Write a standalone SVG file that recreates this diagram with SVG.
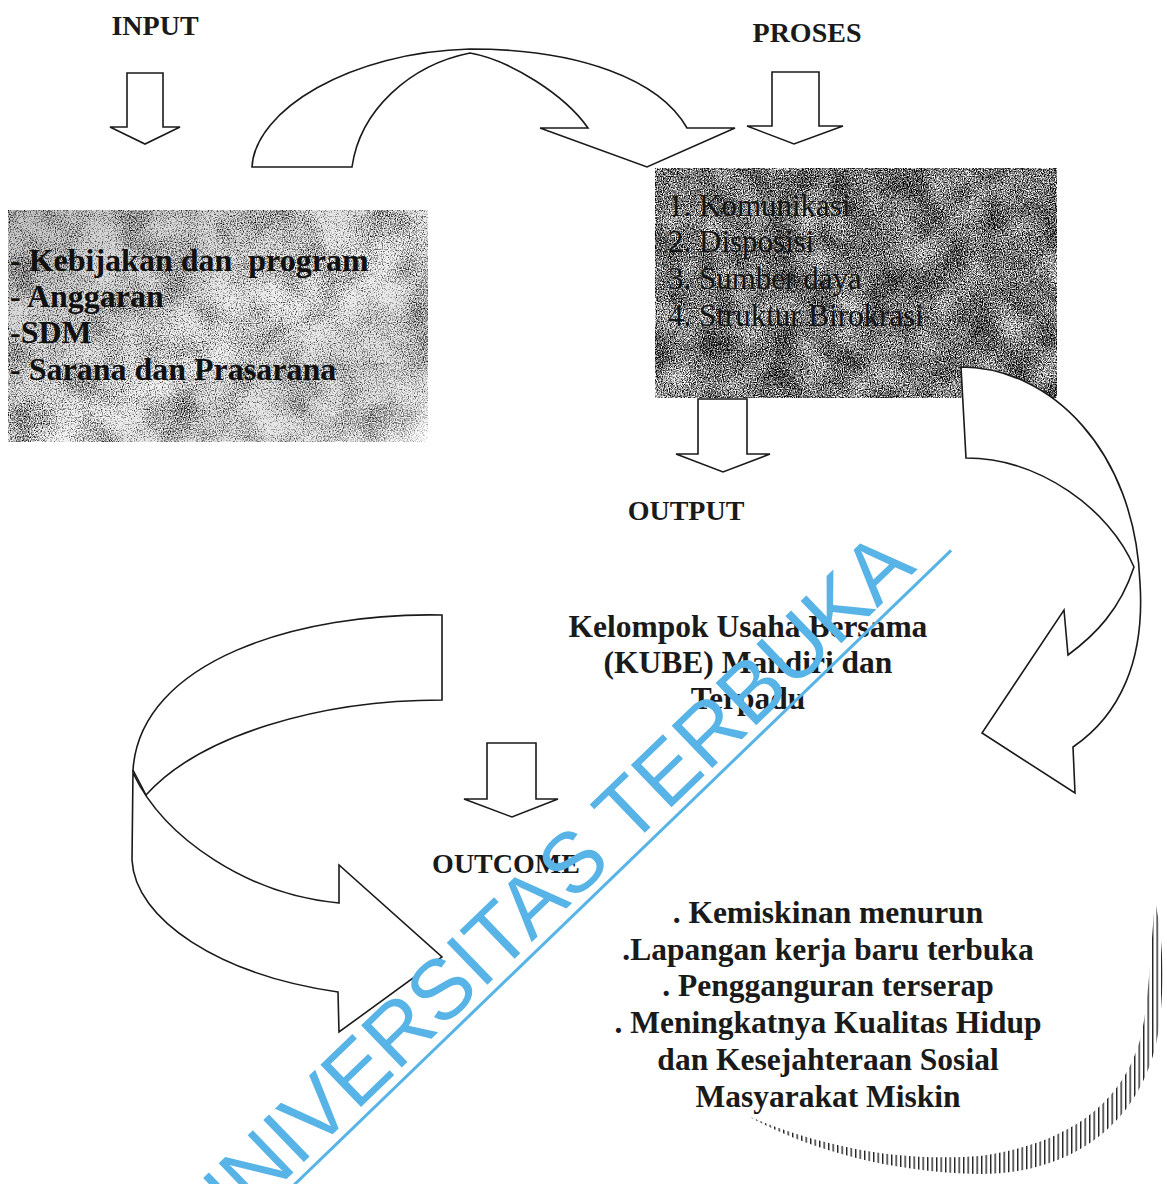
<svg xmlns="http://www.w3.org/2000/svg" width="1167" height="1184" viewBox="0 0 1167 1184">
<style>
.hd{font-family:"Liberation Serif","Times New Roman",serif;font-weight:bold;font-size:28px;fill:#1a1a1a;text-anchor:middle}
.bx{font-family:"Liberation Serif","Times New Roman",serif;font-weight:bold;font-size:32px;fill:#111}
.bxr{font-family:"Liberation Serif","Times New Roman",serif;font-size:31px;fill:#151515}
.ct{font-family:"Liberation Serif","Times New Roman",serif;font-weight:bold;font-size:31.5px;fill:#1a1a1a;text-anchor:middle}
.ln{fill:#fff;stroke:#1a1a1a;stroke-width:1.6;stroke-linejoin:miter}
.wm{font-family:"Liberation Sans",Arial,sans-serif;font-size:85px;fill:#58b4e6}
</style>
<defs>
<filter id="grainR" filterUnits="userSpaceOnUse" x="655" y="168" width="402" height="232" color-interpolation-filters="sRGB">
 <feTurbulence type="fractalNoise" baseFrequency="0.85" numOctaves="2" seed="4" result="hi0"/>
 <feColorMatrix in="hi0" type="matrix" values="1 0 0 0 0 0 1 0 0 0 0 0 1 0 0 0 0 0 0 1" result="hi"/>
 <feTurbulence type="fractalNoise" baseFrequency="0.03" numOctaves="2" seed="9" result="lo0"/>
 <feColorMatrix in="lo0" type="matrix" values="1 0 0 0 0 0 1 0 0 0 0 0 1 0 0 0 0 0 0 1" result="lo"/>
 <feComposite in="hi" in2="lo" operator="arithmetic" k1="0" k2="0.9" k3="0.25" k4="-0.075" result="mix"/>
 <feColorMatrix in="mix" type="matrix" values="2.7 0 0 0 -0.88 2.7 0 0 0 -0.88 2.7 0 0 0 -0.88 0 0 0 0 1" result="g"/>
 <feComposite in="g" in2="SourceAlpha" operator="in"/>
</filter>
<filter id="grainL" filterUnits="userSpaceOnUse" x="8" y="208" width="422" height="236" color-interpolation-filters="sRGB">
 <feTurbulence type="fractalNoise" baseFrequency="0.85" numOctaves="2" seed="12" result="hi0"/>
 <feColorMatrix in="hi0" type="matrix" values="1 0 0 0 0 0 1 0 0 0 0 0 1 0 0 0 0 0 0 1" result="hi"/>
 <feTurbulence type="fractalNoise" baseFrequency="0.025" numOctaves="2" seed="21" result="lo0"/>
 <feColorMatrix in="lo0" type="matrix" values="1 0 0 0 0 0 1 0 0 0 0 0 1 0 0 0 0 0 0 1" result="lo"/>
 <feComposite in="hi" in2="lo" operator="arithmetic" k1="0" k2="0.9" k3="0.35" k4="-0.125" result="mix"/>
 <feColorMatrix in="mix" type="matrix" values="2.6 0 0 0 -0.45 2.6 0 0 0 -0.45 2.6 0 0 0 -0.45 0 0 0 0 1" result="g"/>
 <feComposite in="g" in2="SourceAlpha" operator="in"/>
</filter>
<linearGradient id="shadeL" x1="0" y1="0" x2="1" y2="1">
 <stop offset="0" stop-color="#000" stop-opacity="0.22"/>
 <stop offset="0.55" stop-color="#000" stop-opacity="0.05"/>
 <stop offset="1" stop-color="#fff" stop-opacity="0.35"/>
</linearGradient>
<pattern id="hatch" patternUnits="userSpaceOnUse" width="4.5" height="8">
 <rect x="0" y="0" width="1.4" height="8" fill="#222"/>
</pattern>
</defs>
<rect width="1167" height="1184" fill="#fff"/>

<g id="input-box">
 <rect x="8" y="210" width="420" height="232" fill="#ccc" filter="url(#grainL)"/>
 <rect x="8" y="210" width="420" height="232" fill="url(#shadeL)"/>
 <text class="bx" x="10" y="271" xml:space="preserve">- Kebijakan dan  program</text>
 <text class="bx" x="10" y="307">- Anggaran</text>
 <text class="bx" x="10" y="343">-SDM</text>
 <text class="bx" x="10" y="380">- Sarana dan Prasarana</text>
</g>

<g id="proses-box">
 <rect x="655" y="168" width="402" height="230" fill="#999" filter="url(#grainR)"/>
 <text class="bxr" x="668" y="216">1. Komunikasi</text>
 <text class="bxr" x="668" y="252">2. Disposisi</text>
 <text class="bxr" x="668" y="289">3. Sumber daya</text>
 <text class="bxr" x="668" y="326">4. Struktur Birokrasi</text>
</g>

<g id="input-label"><text class="hd" x="155" y="35">INPUT</text></g>
<g id="proses-label"><text class="hd" x="807" y="42">PROSES</text></g>
<g id="output-label"><text class="hd" x="686" y="520">OUTPUT</text></g>
<g id="outcome-label"><text class="hd" x="506" y="873">OUTCOME</text></g>

<g id="output-text">
 <text class="ct" x="748" y="637">Kelompok Usaha Bersama</text>
 <text class="ct" x="748" y="673">(KUBE) Mandiri dan</text>
 <text class="ct" x="748" y="709">Terpadu</text>
</g>

<g id="outcome-text">
 <text class="ct" x="828" y="923">. Kemiskinan menurun</text>
 <text class="ct" x="828" y="960">.Lapangan kerja baru terbuka</text>
 <text class="ct" x="828" y="996">. Pengganguran terserap</text>
 <text class="ct" x="828" y="1033">. Meningkatnya Kualitas Hidup</text>
 <text class="ct" x="828" y="1070">dan Kesejahteraan Sosial</text>
 <text class="ct" x="828" y="1107">Masyarakat Miskin</text>
</g>

<g id="connectors">
 <polygon class="ln" points="127,73 163,73 163,127 180,127 145,144 110,127 127,127"/>
 <polygon class="ln" points="772,72 819,72 819,126 843,126 794,144 747,126 772,126"/>
 <polygon class="ln" points="698,399 747,399 747,454 770,454 723,472 676,454 698,454"/>
 <polygon class="ln" points="487,743 536,743 536,799 558,799 512,817 464,799 487,799"/>

 <path class="ln" d="M252,167 C255,110 350,52 470,49 C580,49 660,80 687,128 L735,128 L647,167 L540,128 L588,128 C565,95 510,60 470,53 C410,65 360,110 352,167 Z"/>

 <path class="ln" d="M961,367 C1050,367 1135,450 1140,583 C1145,660 1120,715 1073,747 L1075,793 L982,733 L1064,610 L1068,655 C1095,635 1120,610 1134,567 C1110,510 1040,458 966,458 Z"/>

 <path class="ln" d="M133,770 L132,860 C135,920 220,975 338,992 L339,1032 L442,957 L339,865 L339,903 C250,895 165,840 133,773 Z"/>
 <path class="ln" d="M442,615 C300,612 140,660 133,770 L146,795 C200,735 320,700 442,700 Z"/>
</g>

<g id="outcome-arc">
 <path d="M748,1116 C800,1145 880,1172 980,1174 C1080,1174 1150,1115 1160,1020 C1165,970 1162,935 1155,900 C1150,960 1148,1010 1140,1040 C1120,1110 1060,1145 980,1156 C890,1163 810,1142 748,1116 Z" fill="url(#hatch)"/>
</g>

<g id="watermark" transform="translate(632,803) rotate(-44)">
 <text class="wm" x="-616" y="30.4">UNIVERSITAS TERBUKA</text>
 <line x1="-660" y1="40" x2="405" y2="40" stroke="#58b4e6" stroke-width="3"/>
</g>
</svg>
